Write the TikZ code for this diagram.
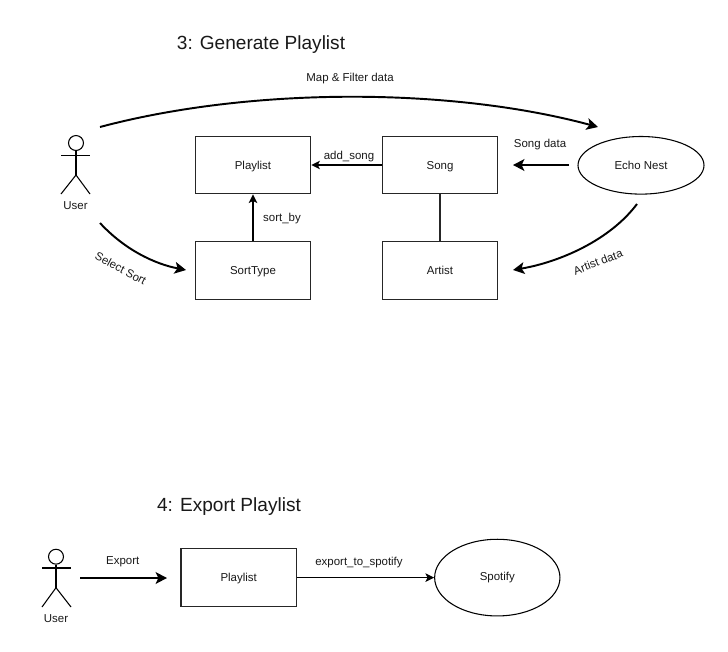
\documentclass[tikz,border=0pt]{standalone}
\usepackage{fontspec}
\setmainfont{Liberation Sans}
\usetikzlibrary{arrows.meta,shapes.geometric}
\tikzset{
  every node/.style={font=\fontsize{8.6pt}{10pt}\selectfont, text=black!90},
  boxnode/.style={draw=black!85, line width=0.9pt, minimum width=86.5pt, minimum height=43.2pt, inner sep=0pt, text depth=0pt},
  cloudnode/.style={ellipse, draw=black, line width=0.8pt, inner sep=0pt},
  lbl/.style={inner sep=0pt},
  titlelbl/.style={inner sep=0pt, font=\fontsize{14.3pt}{16pt}\selectfont},
  thinarrow/.style={draw=black, line width=0.85pt, -{Stealth[length=6.5pt,width=6.4pt,inset=1.6pt]}},
  thickarrow/.style={draw=black, line width=1.45pt, -{Stealth[length=8.5pt,width=8.8pt,inset=2pt]}},
  plainline/.style={draw=black!85, line width=0.85pt},
  actorline/.style={draw=black, line width=0.8pt}
}
\begin{document}
\begin{tikzpicture}[x=0.75pt,y=-0.75pt]
\useasboundingbox (0,0) rectangle (728,651);
\fill[white] (0,0) rectangle (728,651);

% titles
\node[titlelbl] (t3) at (261,45) {3: Generate Playlist};
\node[titlelbl] (t4) at (229,506.5) {4: Export Playlist};

% section 3 nodes
\node[boxnode] (playlist) at (253,165) {Playlist};
\node[boxnode] (sorttype) at (253,270.5) {SortType};
\node[boxnode] (song) at (440,165) {Song};
\node[boxnode] (artist) at (440,270.5) {Artist};
\node[cloudnode, minimum width=94.5pt, minimum height=43.2pt] (echo) at (641,165.3) {Echo Nest};

% actor 1
\node[circle, draw=black, line width=0.8pt, minimum size=11.2pt, inner sep=0pt] (head1) at (76,143) {};
\coordinate (hip1) at (76,175);
\coordinate (armL1) at (61,155.7);
\coordinate (armR1) at (90,155.7);
\coordinate (legL1) at (61,194);
\coordinate (legR1) at (90,194);
\draw[actorline] (head1.south) -- (hip1);
\draw[actorline] (armL1) -- (armR1);
\draw[actorline] (legL1) -- (hip1) -- (legR1);
\node[lbl] (user1) at (75.5,206) {User};

% section 3 connectors
\coordinate (mapS) at (100,127);
\coordinate (mapE) at (598,127);
\draw[thickarrow] (mapS) .. controls (250,87) and (450,87) .. (mapE);
\coordinate (selS) at (100,223);
\coordinate (selE) at (186,270);
\draw[thickarrow] (selS) .. controls (125,250) and (155,264) .. (selE);
\coordinate (artS) at (637,204);
\coordinate (artE) at (513,270);
\draw[thickarrow] (artS) .. controls (610,240) and (560,262) .. (artE);
\coordinate (sngS) at (569,165);
\coordinate (sngE) at (513,165);
\draw[thickarrow] (sngS) -- (sngE);
\draw[thinarrow] (song.west) -- (playlist.east);
\draw[thinarrow] (sorttype.north) -- (playlist.south);
\draw[plainline] (song.south) -- (artist.north);

% section 3 labels
\node[lbl] (lmap) at (350,78.5) {Map \& Filter data};
\node[lbl] (lsong) at (540,144.5) {Song data};
\node[lbl] (ladd) at (349,156.5) {add\_song};
\node[lbl] (lsort) at (282,218.5) {sort\_by};
\node[lbl, rotate=-28] (lsel) at (120.7,268.5) {Select Sort};
\node[lbl, rotate=21] (lart) at (598,262) {Artist data};

% section 4 nodes
\node[boxnode] (playlistb) at (238.7,577.6) {Playlist};
\node[cloudnode, minimum width=94pt, minimum height=57.5pt] (spotify) at (497.3,577.6) {Spotify};

% actor 2
\node[circle, draw=black, line width=0.8pt, minimum size=11.2pt, inner sep=0pt] (head2) at (56,556.7) {};
\coordinate (hip2) at (56,587.7);
\coordinate (armL2) at (42,568);
\coordinate (armR2) at (71,568);
\coordinate (legL2) at (42,607);
\coordinate (legR2) at (71,607);
\draw[actorline] (head2.south) -- (hip2);
\draw[actorline] (armL2) -- (armR2);
\draw[actorline] (legL2) -- (hip2) -- (legR2);
\node[lbl] (user2) at (56,618.5) {User};

% section 4 connectors
\coordinate (expS) at (80,578);
\coordinate (expE) at (167,578);
\draw[thickarrow] (expS) -- (expE);
\draw[thinarrow] (playlistb.east) -- (spotify.west);
\node[lbl] (lexp) at (122.7,562) {Export};
\node[lbl] (lspo) at (359,563) {export\_to\_spotify};
\end{tikzpicture}
\end{document}
